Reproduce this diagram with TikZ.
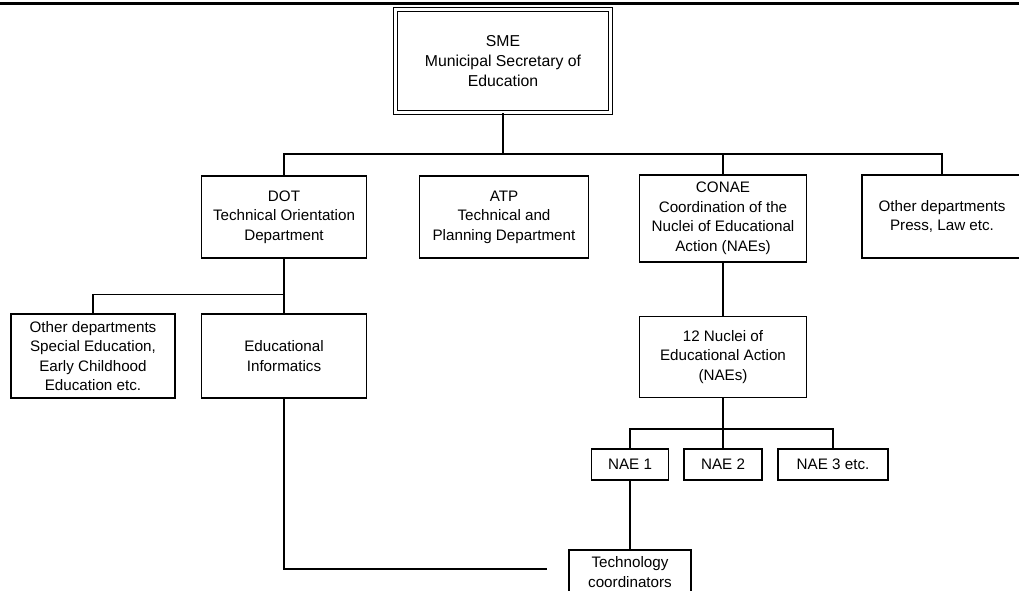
\documentclass[tikz,border=0pt]{standalone}
\usepackage{fontspec}
\setmainfont{Liberation Sans}
\begin{document}
\begin{tikzpicture}[x=1pt,y=-1pt,
  box/.style={draw=black, line width=1.4pt, inner sep=0pt, align=center,
    font=\fontsize{15.2}{19.5}\selectfont},
  link/.style={draw=black, line width=1.8pt},
  rule/.style={draw=black, line width=2.6pt}]
\useasboundingbox (0,0) rectangle (1019,591);
% top rule
\coordinate (tl) at (0,3.5);
\coordinate (tr) at (1019,3.5);
\draw[rule] (tl) -- (tr);
% nodes
\node[box, double=white, double distance=2.5pt, line width=1.2pt,
      font=\fontsize{15.8}{20}\selectfont,
      minimum width=215pt, minimum height=103pt] (sme) at (503,61)
      {SME\\Municipal Secretary of\\Education};
\node[box, minimum width=165pt, minimum height=82pt] (dot) at (284,217)
      {DOT\\Technical Orientation\\Department};
\node[box, minimum width=169pt, minimum height=82pt] (atp) at (504,217)
      {ATP\\Technical and\\Planning Department};
\node[box, minimum width=167pt, minimum height=87pt] (conae) at (723,218.5)
      {CONAE\\Coordination of the\\Nuclei of Educational\\Action (NAEs)};
\node[box, minimum width=160pt, minimum height=83pt] (othp) at (942,216.5)
      {Other departments\\Press, Law etc.};
\node[box, minimum width=164pt, minimum height=84pt] (oths) at (93,356)
      {Other departments\\Special Education,\\Early Childhood\\Education etc.};
\node[box, minimum width=165pt, minimum height=84pt] (ei) at (284,356)
      {Educational\\Informatics};
\node[box, minimum width=167pt, minimum height=81pt] (nuc) at (723,357)
      {12 Nuclei of\\Educational Action\\(NAEs)};
\node[box, minimum width=77pt, minimum height=31pt] (nae1) at (630,464.5) {NAE 1};
\node[box, minimum width=78pt, minimum height=31pt] (nae2) at (723,464.5) {NAE 2};
\node[box, minimum width=110pt, minimum height=31pt] (nae3) at (833,464.5) {NAE 3 etc.};
\node[box, minimum width=122pt, minimum height=44pt] (tech) at (630,572)
      {Technology\\coordinators};
% bus coordinates
\coordinate (b1) at (503,154);
\coordinate (b2) at (284,294.5);
\coordinate (b3) at (723,429);
\coordinate (fe) at (547,569);
% connectors
\draw[link] (sme.south) -- (b1);
\draw[link] (dot.north) |- (b1) -| (othp.north);
\draw[link] (conae.north) -- (conae.north |- b1);
\draw[link] (dot.south) -- (ei.north);
\draw[link] (oths.north) |- (b2);
\draw[link] (conae.south) -- (nuc.north);
\draw[link] (nuc.south) -- (nae2.north);
\draw[link] (nae1.north) |- (b3) -| (nae3.north);
\draw[link] (nae1.south) -- (tech.north);
\draw[link] (ei.south) |- (fe);
\end{tikzpicture}
\end{document}
